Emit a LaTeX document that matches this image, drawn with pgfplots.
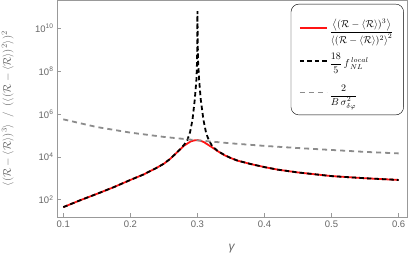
\documentclass[border=0pt]{standalone}
\usepackage{amsmath}
\usepackage{fontspec}
\setmainfont{Liberation Sans}
\usepackage{pgfplots}
\pgfplotsset{compat=1.18}
\definecolor{framegray}{gray}{0.6}
\definecolor{labgray}{gray}{0.4}
\definecolor{dgray}{gray}{0.55}
\definecolor{mred}{rgb}{1,0.08,0.08}
\begin{document}
\begin{tikzpicture}
\begin{axis}[
 scale only axis, width=350pt, height=217pt,
 xmin=0.0906, xmax=0.6125,
 ymode=log, ymin=15.5, ymax=2.1e11,
 axis line style={framegray, line width=0.8pt},
 tick align=inside, tick pos=left, major tick length=4pt,
 every tick/.style={framegray, line width=0.6pt},
 xtick={0.1,0.2,0.3,0.4,0.5,0.6},
 xticklabels={0.1,0.2,0.3,0.4,0.5,0.6},
 ytick={1e2,1e4,1e6,1e8,1e10},
 yticklabels={10\textsuperscript{2},10\textsuperscript{4},10\textsuperscript{6},10\textsuperscript{8},10\textsuperscript{10}},
 yminorticks=false, xminorticks=false,
 tick label style={font=\fontsize{9.5}{10}\selectfont, text=labgray},
 xlabel={\textit{γ}},
 xlabel style={font=\fontsize{12}{12}\selectfont, text=labgray, at={(axis description cs:0.5,-0.147)}, anchor=center},
 ylabel={$\langle(\mathcal{R}-\langle\mathcal{R}\rangle)^3\rangle\ \ /\ \ (\langle(\mathcal{R}-\langle\mathcal{R}\rangle)^2\rangle)^2$},
 ylabel style={font=\fontsize{11}{11}\selectfont, text=labgray, at={(axis description cs:-0.141,0.5)}, anchor=center},
 legend cell align=left,
 legend style={at={(0.991,0.982)}, anchor=north east, draw=black, rounded corners=8pt,
   font=\fontsize{10}{10}\selectfont, row sep=13pt, inner xsep=8pt, inner ysep=13pt},
 legend image code/.code={\draw[#1] (0pt,0pt) -- (27pt,0pt);},
]
\addplot[mred, line width=1.8pt] coordinates {
(0.10,44.7) (0.125,93.3) (0.15,186) (0.175,380) (0.20,832) (0.22,1514) (0.24,3162)
(0.25,4786) (0.26,8318) (0.27,16596) (0.28,33113) (0.29,52481) (0.295,58210) (0.30,60256)
(0.305,56234) (0.31,47863) (0.32,30200) (0.33,18621) (0.34,12023) (0.35,8710) (0.36,6607)
(0.38,4571) (0.40,3311) (0.42,2512) (0.45,1862) (0.50,1259) (0.55,1000) (0.60,832)};
\addlegendentry{$\displaystyle\frac{\left\langle(\mathcal{R}-\langle\mathcal{R}\rangle)^3\right\rangle}{\left\langle(\mathcal{R}-\langle\mathcal{R}\rangle)^2\right\rangle^2}$}
\addplot[black, line width=1.8pt, dash pattern=on 4.5pt off 3pt] coordinates {
(0.10,44.7) (0.125,93.3) (0.15,186) (0.175,380) (0.20,832) (0.22,1514) (0.24,3162)
(0.25,4786) (0.26,8318) (0.27,16800) (0.275,23988) (0.28,36308) (0.285,60256) (0.289,141254)
(0.2926,524807) (0.296,4.57e6) (0.2985,3.98e7) (0.2995,3.55e8) (0.30,6.3e10)
(0.3008,3.55e8) (0.3025,3.98e7) (0.305,4.57e6) (0.309,524807) (0.313,125893) (0.317,60256)
(0.322,31623) (0.33,19055) (0.34,12303) (0.35,8710) (0.36,6607)
(0.38,4571) (0.40,3311) (0.42,2512) (0.45,1862) (0.50,1259) (0.55,1000) (0.60,832)};
\addlegendentry{$\displaystyle\frac{18}{5}\,f^{\,local}_{\,NL}$}
\addplot[dgray, line width=1.8pt, dash pattern=on 5pt off 4pt] coordinates {
(0.1,562341) (0.15,245471) (0.2,134896) (0.25,85114) (0.3,58884) (0.35,42658)
(0.4,32359) (0.45,25704) (0.5,20893) (0.55,16982) (0.6,14454)};
\addlegendentry{$\displaystyle\frac{2}{B\,\sigma^2_{\delta\varphi}}$}
\end{axis}
\pgfresetboundingbox
\path[use as bounding box] (current axis.south west) ++(-57pt,-45pt) rectangle ([xshift=2pt]current axis.north east);
\end{tikzpicture}
\end{document}
